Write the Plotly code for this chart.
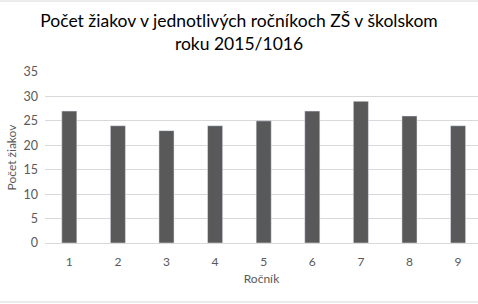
import plotly.graph_objects as go

categories = [1, 2, 3, 4, 5, 6, 7, 8, 9]
values = [27, 24, 23, 24, 25, 27, 29, 26, 24]
y_ticks = [0, 5, 10, 15, 20, 25, 30, 35]

title_text = "Počet žiakov v jednotlivých ročníkoch ZŠ v školskom<br>roku 2015/1016"

fig = go.Figure(go.Bar(x=categories, y=values, marker_color="#595959", width=0.31))

font_family = "Lato, Open Sans, sans-serif"
fig.update_layout(
    width=478, height=304,
    margin=dict(l=45, r=0, t=72, b=61),
    paper_bgcolor="white", plot_bgcolor="white",
    title=dict(text=title_text, x=0.5, xanchor="center", yref="container", y=1 - 27 / 304,
               yanchor="middle",
               font=dict(family=font_family, size=17.5, color="#000000")),
    font=dict(family=font_family, color="#595959"),
    showlegend=False,
)
fig.update_xaxes(range=[0.5, 9.41], tickvals=categories, ticktext=[str(c) for c in categories],
                 showgrid=False, showline=True, linecolor="#d9d9d9", linewidth=1,
                 tickfont=dict(size=12, color="#595959"), ticklabelstandoff=8,
                 title=dict(text="Ročník", font=dict(size=12, color="#595959"), standoff=6))
fig.update_yaxes(range=[0, 35], tickvals=y_ticks, showgrid=True, gridcolor="#d9d9d9", gridwidth=1,
                 zeroline=False, showline=False,
                 tickfont=dict(size=12.5, color="#595959"), ticklabelstandoff=6,
                 title=dict(text="Počet žiakov", font=dict(size=12, color="#595959"), standoff=4))
fig.add_shape(type="line", xref="paper", yref="paper", x0=-0.2, x1=1.1, y0=1.415, y1=1.415,
              line=dict(color="#d9d9d9", width=1))
fig.add_shape(type="line", xref="paper", yref="paper", x0=-0.2, x1=1.1, y0=-0.345, y1=-0.345,
              line=dict(color="#d9d9d9", width=1))

fig.write_html("out.html")
